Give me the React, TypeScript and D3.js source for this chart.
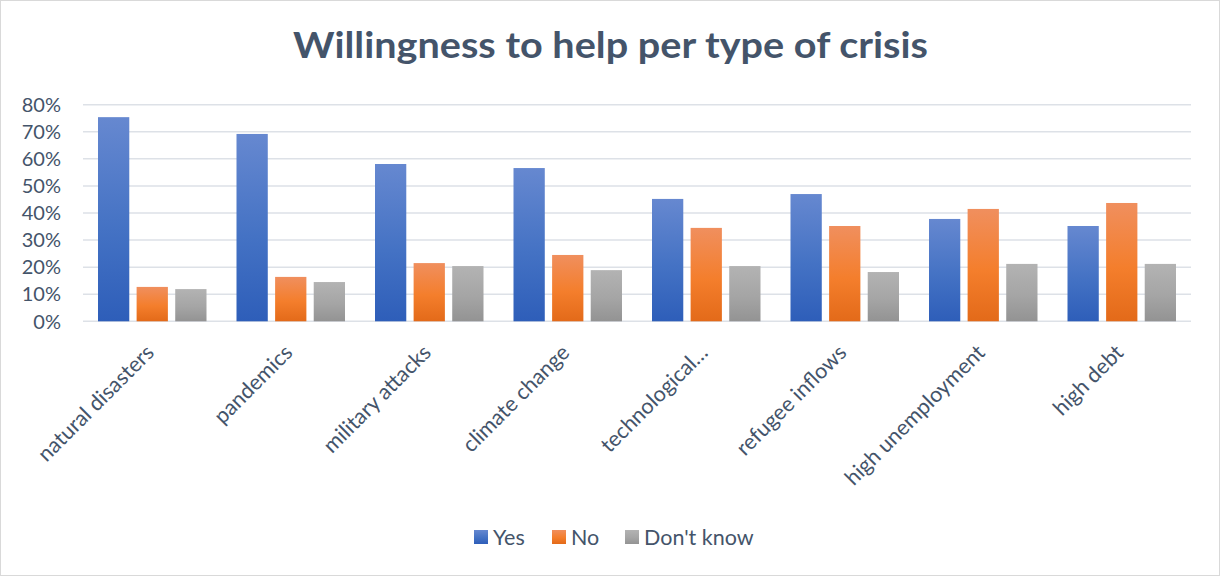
import React from "react";
import * as d3 from "d3";

const categories = [
  "natural disasters",
  "pandemics",
  "military attacks",
  "climate change",
  "technological…",
  "refugee inflows",
  "high unemployment",
  "high debt",
];
const seriesNames = ["Yes", "No", "Don't know"];
const yesValues = [0.754, 0.692, 0.581, 0.566, 0.452, 0.47, 0.378, 0.352];
const noValues = [0.127, 0.164, 0.215, 0.245, 0.345, 0.352, 0.415, 0.437];
const dkValues = [0.119, 0.145, 0.204, 0.189, 0.204, 0.182, 0.212, 0.212];
const yTicks = [0, 0.1, 0.2, 0.3, 0.4, 0.5, 0.6, 0.7, 0.8];

const W = 1220;
const H = 576;
const plot = { left: 83, right: 1191, top: 104.7, bottom: 321.3 };
const textColor = "#44546a";
const font = "Lato, 'Open Sans', sans-serif";

const gradients = [
  { id: "gYes", top: "#6688d0", mid: "#4472c4", bottom: "#2e5eb9" },
  { id: "gNo", top: "#f08f5e", mid: "#f47e2c", bottom: "#e36a19" },
  { id: "gDk", top: "#b3b3b3", mid: "#a5a5a5", bottom: "#939393" },
];

export default function App() {
  const x = d3
    .scaleBand<string>()
    .domain(categories)
    .range([plot.left, plot.right])
    .paddingInner(0)
    .paddingOuter(0);
  const inner = d3
    .scaleBand<string>()
    .domain(seriesNames)
    .range([15, x.bandwidth() - 15])
    .paddingInner(0.19)
    .paddingOuter(0);
  const y = d3.scaleLinear().domain([0, 0.8]).range([plot.bottom, plot.top]);
  const data = [yesValues, noValues, dkValues];

  const legendItems = [
    { name: "Yes", x: 474 },
    { name: "No", x: 552 },
    { name: "Don't know", x: 625 },
  ];

  return (
    <svg
      width={W}
      height={H}
      style={{ position: "absolute", left: 0, top: 0, fontFamily: font }}
    >
      <defs>
        {gradients.map((g) => (
          <linearGradient key={g.id} id={g.id} x1="0" y1="0" x2="0" y2="1">
            <stop offset="0%" stopColor={g.top} />
            <stop offset="55%" stopColor={g.mid} />
            <stop offset="100%" stopColor={g.bottom} />
          </linearGradient>
        ))}
      </defs>
      <rect x={0.5} y={0.5} width={W - 1} height={H - 1} fill="#fff" stroke="#d9d9d9" />
      <text
        x={293}
        y={58}
        fontSize={36}
        fontWeight={700}
        fill={textColor}
        textLength={635}
        lengthAdjust="spacingAndGlyphs"
      >
        Willingness to help per type of crisis
      </text>
      {yTicks.map((t) => (
        <g key={t}>
          <line
            x1={plot.left}
            x2={plot.right}
            y1={y(t)}
            y2={y(t)}
            stroke="#dde1e7"
            strokeWidth={1.5}
          />
          <text
            x={61}
            y={y(t)}
            dy="0.36em"
            textAnchor="end"
            fontSize={20}
            fill={textColor}
          >
            {d3.format(".0%")(t)}
          </text>
        </g>
      ))}
      {categories.map((c, i) => (
        <g key={c}>
          {data.map((vals, s) => (
            <rect
              key={s}
              x={(x(c) as number) + (inner(seriesNames[s]) as number)}
              y={y(vals[i])}
              width={inner.bandwidth()}
              height={plot.bottom - y(vals[i])}
              fill={`url(#${gradients[s].id})`}
            />
          ))}
          <text
            transform={`translate(${(x(c) as number) + x.bandwidth() / 2 + 3},${354}) rotate(-45)`}
            textAnchor="end"
            fontSize={21.5}
            fill={textColor}
          >
            {c}
          </text>
        </g>
      ))}
      {legendItems.map((l, i) => (
        <g key={l.name}>
          <rect x={l.x} y={530} width={14} height={14} fill={`url(#${gradients[i].id})`} />
          <text x={l.x + 19} y={537} dy="0.36em" fontSize={21.5} fill={textColor}>
            {l.name}
          </text>
        </g>
      ))}
    </svg>
  );
}
